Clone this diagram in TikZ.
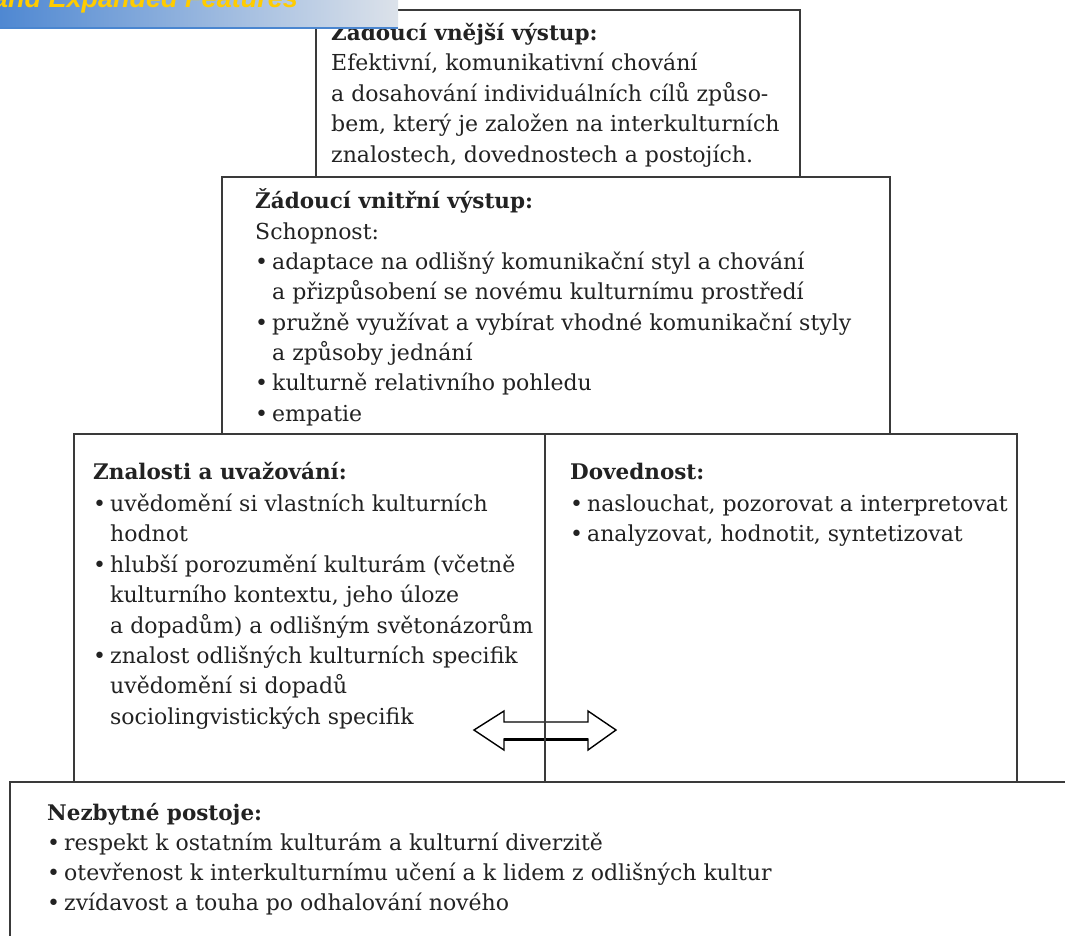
\documentclass[tikz,border=0pt]{standalone}
\usepackage{fontspec}
\setmainfont{DejaVu Serif}
\newfontfamily\bannerfont{Liberation Sans}
\usetikzlibrary{positioning}
\definecolor{boxline}{HTML}{3A3A3A}
\definecolor{txtcol}{HTML}{222222}
\definecolor{bannerL}{HTML}{4F88D2}
\definecolor{bannerR}{HTML}{DCE2EA}
\definecolor{bannerEdge}{HTML}{4A86D0}
\definecolor{bannerTxt}{HTML}{FFCC00}
\newcommand\bul{\makebox[17pt][l]{•}}
\newcommand\ind{\hspace*{17pt}}
\tikzset{
  frame/.style={draw=boxline, line width=1.6pt},
  txt/.style={anchor=base west, inner sep=0pt, text=txtcol, font=\fontsize{22}{26}\selectfont},
  ttl/.style={txt, font=\fontsize{21.5}{26}\selectfont\bfseries},
}
\begin{document}
\begin{tikzpicture}[x=1pt,y=-1pt]
\useasboundingbox (0,0) rectangle (1065,935);
\clip (0,0) rectangle (1065,935);
\fill[white] (0,0) rectangle (1065,935);

% frames
\draw[frame] (316,10) rectangle (800,177);
\draw[frame] (222,177) rectangle (890,434);
\draw[frame] (74,434) rectangle (1017,782);
\draw[frame] (10,950) -- (10,782) -- (1080,782);

% top box
\node[ttl] (t1) at (331,40) {Žádoucí vnější výstup:};
\foreach \s [count=\i] in {{Efektivní, komunikativní chování},{a dosahování individuálních cílů způso-},{bem, který je založen na interkulturních},{znalostech, dovednostech a postojích.}}
  \node[txt] (t1-\i) at (331,40+30.5*\i) {\s};

% second box
\node[ttl] (t2) at (255,208) {Žádoucí vnitřní výstup:};
\foreach \s [count=\i] in {{Schopnost:},{\bul adaptace na odlišný komunikační styl a chování},{\ind a přizpůsobení se novému kulturnímu prostředí},{\bul pružně využívat a vybírat vhodné komunikační styly},{\ind a způsoby jednání},{\bul kulturně relativního pohledu},{\bul empatie}}
  \node[txt] (t2-\i) at (255,209+30.3*\i) {\s};

% left half
\node[ttl] (t3) at (93,479) {Znalosti a uvažování:};
\foreach \s [count=\i] in {{\bul uvědomění si vlastních kulturních},{\ind hodnot},{\bul hlubší porozumění kulturám (včetně},{\ind kulturního kontextu, jeho úloze},{\ind a dopadům) a odlišným světonázorům},{\bul znalost odlišných kulturních specifik},{\ind uvědomění si dopadů},{\ind sociolingvistických specifik}}
  \node[txt] (t3-\i) at (93,481+30.4*\i) {\s};

% right half
\node[ttl] (t4) at (570,479) {Dovednost:};
\foreach \s [count=\i] in {{\bul naslouchat, pozorovat a interpretovat},{\bul analyzovat, hodnotit, syntetizovat}}
  \node[txt] (t4-\i) at (570,481+30.3*\i) {\s};

% bottom box
\node[ttl] (t5) at (47,820) {Nezbytné postoje:};
\foreach \s [count=\i] in {{\bul respekt k ostatním kulturám a kulturní diverzitě},{\bul otevřenost k interkulturnímu učení a k lidem z odlišných kultur},{\bul zvídavost a touha po odhalování nového}}
  \node[txt] (t5-\i) at (47,820+30*\i) {\s};

% double arrow
\draw[draw=black, line width=1.4pt, line join=miter]
  (474,730) -- (504,711) -- (504,722) -- (588,722) -- (588,711) -- (616,730)
  -- (588,750) -- (588,739) -- (504,739) -- (504,750) -- cycle;
\draw[black, line width=2.2pt] (504,739.5) -- (588,739.5);
% divider
\draw[frame] (545,434) -- (545,782);

% banner
\shade[left color=bannerL, right color=bannerR] (0,0) rectangle (398,28);
\draw[bannerEdge, line width=2pt] (0,28) -- (398,28);
\node[anchor=base east, inner sep=0pt, text=bannerTxt, font=\bannerfont\fontsize{27}{30}\selectfont\bfseries\itshape] (banner) at (298,7.5) {and Expanded Features};
\end{tikzpicture}
\end{document}
